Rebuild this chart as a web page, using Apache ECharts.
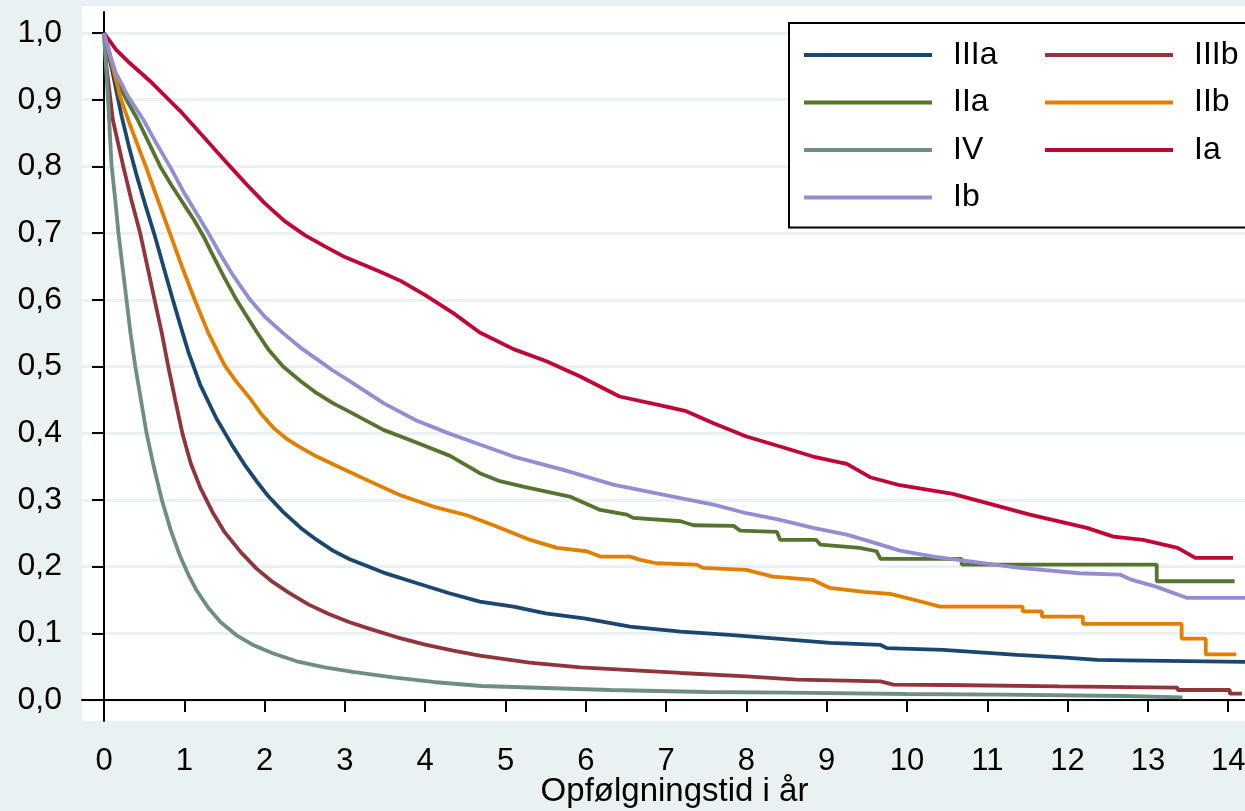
<!DOCTYPE html>
<html>
<head>
<meta charset="utf-8">
<title>Overlevelse efter stadie</title>
<script src="https://cdn.jsdelivr.net/npm/echarts@6/dist/echarts.min.js"></script>
<style>
    html, body { margin: 0; padding: 0; background: #eaf1f3; }
    #main { width: 1245px; height: 811px; }
</style>
</head>
<body>
<div id="main"></div>
<script>
// akse-ticks
var yTicks = [0, 0.1, 0.2, 0.3, 0.4, 0.5, 0.6, 0.7, 0.8, 0.9, 1.0];
var xTicks = [0, 1, 2, 3, 4, 5, 6, 7, 8, 9, 10, 11, 12, 13, 14];

// overlevelseskurver: [år, andel]
var stageIIIa = [[0, 1], [0.05, 0.972], [0.1, 0.945], [0.16, 0.91], [0.22, 0.875], [0.31, 0.83], [0.41, 0.785],
    [0.52, 0.74], [0.635, 0.695], [0.74, 0.65], [0.85, 0.603], [0.95, 0.562], [1.05, 0.522], [1.2, 0.472], [1.4, 0.422],
    [1.6, 0.381], [1.75, 0.353], [1.9, 0.328], [2.05, 0.305], [2.23, 0.282], [2.45, 0.258], [2.65, 0.24], [2.85, 0.224],
    [3.06, 0.211], [3.48, 0.191], [3.9, 0.175], [4.3, 0.16], [4.68, 0.1475], [5.1, 0.14], [5.5, 0.13], [6.0, 0.122],
    [6.55, 0.11], [7.18, 0.1025], [7.79, 0.0975], [8.42, 0.0915], [9.04, 0.0855], [9.67, 0.0825], [9.75, 0.0777],
    [10.45, 0.075], [11.37, 0.0675], [11.93, 0.064], [12.37, 0.06], [12.73, 0.0595], [12.73, 0.057], [14.3, 0.057]];
var stageIIIb = [[0, 1], [0.03, 0.95], [0.11, 0.87], [0.24, 0.8], [0.34, 0.75], [0.45, 0.7], [0.54, 0.65], [0.63, 0.6],
    [0.72, 0.55], [0.8, 0.5], [0.89, 0.448], [0.98, 0.398], [1.08, 0.355], [1.2, 0.318], [1.35, 0.282], [1.5, 0.252],
    [1.7, 0.222], [1.9, 0.197], [2.1, 0.177], [2.3, 0.161], [2.55, 0.143], [2.8, 0.129], [3.05, 0.117], [3.3, 0.107],
    [3.65, 0.094], [4.0, 0.083], [4.35, 0.074], [4.68, 0.0665], [5.3, 0.056], [5.93, 0.049], [7.18, 0.0405],
    [8.0, 0.0355], [8.63, 0.0305], [9.67, 0.028], [9.83, 0.023], [10.5, 0.0225], [11.9, 0.0205], [13.37, 0.0185],
    [13.37, 0.015], [14.02, 0.015], [14.02, 0.0095], [14.17, 0.0095]];
var stageIIa = [[0, 1], [0.08, 0.96], [0.15, 0.93], [0.28, 0.9], [0.42, 0.87], [0.56, 0.835], [0.7, 0.8], [0.85, 0.77],
    [1.0, 0.742], [1.12, 0.72], [1.24, 0.695], [1.35, 0.668], [1.5, 0.633], [1.65, 0.6], [1.78, 0.575], [1.9, 0.552],
    [2.05, 0.525], [2.23, 0.5], [2.45, 0.478], [2.65, 0.46], [2.85, 0.445], [3.06, 0.432], [3.48, 0.405], [3.89, 0.386],
    [4.31, 0.366], [4.68, 0.34], [4.93, 0.328], [5.22, 0.32], [5.8, 0.305], [6.18, 0.285], [6.51, 0.278], [6.59, 0.273],
    [7.18, 0.268], [7.34, 0.262], [7.84, 0.261], [7.92, 0.254], [8.38, 0.252], [8.42, 0.24], [8.87, 0.24], [8.92, 0.233],
    [9.41, 0.228], [9.62, 0.223], [9.67, 0.2116], [10.68, 0.2116], [10.68, 0.203], [13.11, 0.203], [13.11, 0.178],
    [14.08, 0.178]];
var stageIIb = [[0, 1], [0.05, 0.98], [0.12, 0.945], [0.2, 0.905], [0.3, 0.87], [0.41, 0.835], [0.52, 0.8], [0.67, 0.75],
    [0.82, 0.7], [0.97, 0.65], [1.13, 0.6], [1.3, 0.55], [1.5, 0.502], [1.65, 0.477], [1.82, 0.452], [1.95, 0.43],
    [2.11, 0.408], [2.27, 0.392], [2.44, 0.379], [2.65, 0.365], [2.86, 0.353], [3.27, 0.33], [3.69, 0.307], [4.1, 0.29],
    [4.52, 0.277], [4.85, 0.262], [5.1, 0.25], [5.31, 0.24], [5.64, 0.228], [6.01, 0.223], [6.18, 0.215], [6.55, 0.215],
    [6.68, 0.21], [6.88, 0.205], [7.38, 0.203], [7.46, 0.198], [8.0, 0.195], [8.33, 0.185], [8.83, 0.18], [9.04, 0.168],
    [9.46, 0.162], [9.79, 0.159], [10.16, 0.148], [10.41, 0.14], [11.44, 0.14], [11.44, 0.133], [11.68, 0.133],
    [11.68, 0.125], [12.19, 0.125], [12.19, 0.114], [13.42, 0.114], [13.42, 0.092], [13.72, 0.092], [13.72, 0.0685],
    [14.1, 0.0685]];
var stageIV = [[0, 1], [0.025, 0.95], [0.05, 0.9], [0.095, 0.8], [0.14, 0.75], [0.18, 0.7], [0.23, 0.65], [0.28, 0.6],
    [0.33, 0.55], [0.39, 0.5], [0.46, 0.45], [0.53, 0.4], [0.62, 0.35], [0.72, 0.3], [0.83, 0.255], [0.95, 0.215],
    [1.05, 0.188], [1.15, 0.165], [1.3, 0.138], [1.45, 0.117], [1.65, 0.097], [1.85, 0.083], [2.1, 0.07], [2.4, 0.058],
    [2.75, 0.049], [3.1, 0.042], [3.6, 0.034], [4.1, 0.027], [4.7, 0.021], [5.5, 0.018], [6.3, 0.015], [7.5, 0.012],
    [8.5, 0.011], [10.0, 0.009], [11.2, 0.008], [12.7, 0.006], [13.43, 0.004]];
var stageIa = [[0, 1], [0.15, 0.975], [0.32, 0.955], [0.6, 0.925], [0.95, 0.883], [1.25, 0.843], [1.57, 0.8],
    [1.8, 0.77], [2.0, 0.745], [2.25, 0.718], [2.5, 0.697], [2.75, 0.68], [3.0, 0.664], [3.44, 0.642], [3.7, 0.628],
    [4.0, 0.607], [4.35, 0.58], [4.68, 0.551], [5.1, 0.526], [5.51, 0.508], [5.93, 0.485], [6.42, 0.455], [6.96, 0.441],
    [7.25, 0.433], [7.59, 0.415], [8.0, 0.395], [8.42, 0.38], [8.83, 0.365], [9.25, 0.354], [9.54, 0.334], [9.91, 0.322],
    [10.57, 0.309], [11.53, 0.278], [12.24, 0.258], [12.57, 0.245], [12.94, 0.24], [13.37, 0.228], [13.59, 0.213],
    [14.06, 0.213]];
var stageIb = [[0, 1], [0.08, 0.965], [0.15, 0.94], [0.3, 0.905], [0.49, 0.87], [0.65, 0.835], [0.82, 0.8], [1.0, 0.76],
    [1.15, 0.73], [1.3, 0.7], [1.45, 0.668], [1.6, 0.638], [1.82, 0.6], [2.0, 0.575], [2.23, 0.55], [2.45, 0.528],
    [2.65, 0.511], [2.85, 0.494], [3.06, 0.478], [3.48, 0.445], [3.89, 0.419], [4.31, 0.399], [4.68, 0.383], [5.1, 0.365],
    [5.72, 0.345], [6.34, 0.323], [6.96, 0.308], [7.59, 0.293], [8.0, 0.28], [8.42, 0.27], [8.83, 0.258], [9.25, 0.248],
    [9.67, 0.233], [9.91, 0.224], [10.33, 0.215], [11.4, 0.198], [12.15, 0.19], [12.65, 0.188], [12.8, 0.18],
    [13.1, 0.17], [13.49, 0.153], [14.3, 0.153]];

var font = '"Liberation Sans", Arial, sans-serif';

function curve(name, data, color) {
    return {
        name: name,
        type: 'line',
        data: data,
        showSymbol: false,
        symbol: 'none',
        silent: true,
        color: color,
        itemStyle: { color: color },
        lineStyle: { color: color, width: 3.8 }
    };
}

var legendBase = {
    orient: 'vertical',
    icon: 'rect',
    itemWidth: 128,
    itemHeight: 4,
    itemGap: 15.5,
    selectedMode: false,
    textStyle: { color: '#000', fontSize: 32, lineHeight: 32, fontFamily: font, padding: [0, 0, 0, 16] }
};

var myChart = echarts.init(document.getElementById('main'));

var option = {
    backgroundColor: '#eaf1f3',
    animation: false,
    graphic: [{
        type: 'rect', left: 82, top: 6, z: -10, silent: true,
        shape: { width: 1200, height: 10 },
        style: { fill: '#fff' }
    }],
    legend: [
        echarts.util.merge({
            left: 789, top: 23,
            padding: [16, 300, 14, 15],
            backgroundColor: '#fff',
            borderColor: '#000',
            borderWidth: 2,
            data: ['IIIa', 'IIa', 'IV', 'Ib']
        }, legendBase),
        echarts.util.merge({
            left: 1045, top: 39,
            padding: 0,
            z: 10,
            data: ['IIIb', 'IIb', 'Ia']
        }, legendBase)
    ],
    grid: {
        left: 82, right: -22, top: 12, bottom: 90,
        outerBoundsMode: 'none',
        containLabel: false,
        show: true, backgroundColor: '#fff', borderWidth: 0
    },
    xAxis: {
        type: 'value',
        min: -0.274, max: 14.483,
        name: 'Opfølgningstid i år',
        nameLocation: 'middle',
        nameGap: 54,
        nameMoveOverlap: false,
        nameTextStyle: { color: '#000', fontSize: 33, fontFamily: font },
        axisLine: { show: true, lineStyle: { color: '#000', width: 2 } },
        axisTick: { show: true, length: 12, lineStyle: { color: '#000', width: 2 }, customValues: xTicks },
        axisLabel: { color: '#000', fontSize: 31, fontFamily: font, margin: 25, customValues: xTicks },
        splitLine: { show: false }
    },
    yAxis: {
        type: 'value',
        min: -0.0315, max: 1.0315,
        axisLine: { show: true, lineStyle: { color: '#000', width: 2 } },
        axisTick: { show: true, length: 12, lineStyle: { color: '#000', width: 2 }, customValues: yTicks },
        axisLabel: {
            color: '#000', fontSize: 32, fontFamily: font, margin: 20, customValues: yTicks,
            formatter: function (v) { return v.toFixed(1).replace('.', ','); }
        },
        splitLine: { show: true, lineStyle: { color: '#eaf1f3', width: 3 } }
    },
    series: [
        curve('IIIa', stageIIIa, '#1a476f'),
        curve('IIIb', stageIIIb, '#90353b'),
        curve('IIa', stageIIa, '#55752f'),
        curve('IIb', stageIIb, '#e37e00'),
        curve('IV', stageIV, '#6e8e84'),
        curve('Ia', stageIa, '#c10534'),
        curve('Ib', stageIb, '#938dd2')
    ]
};
myChart.setOption(option);
</script>
</body>
</html>
